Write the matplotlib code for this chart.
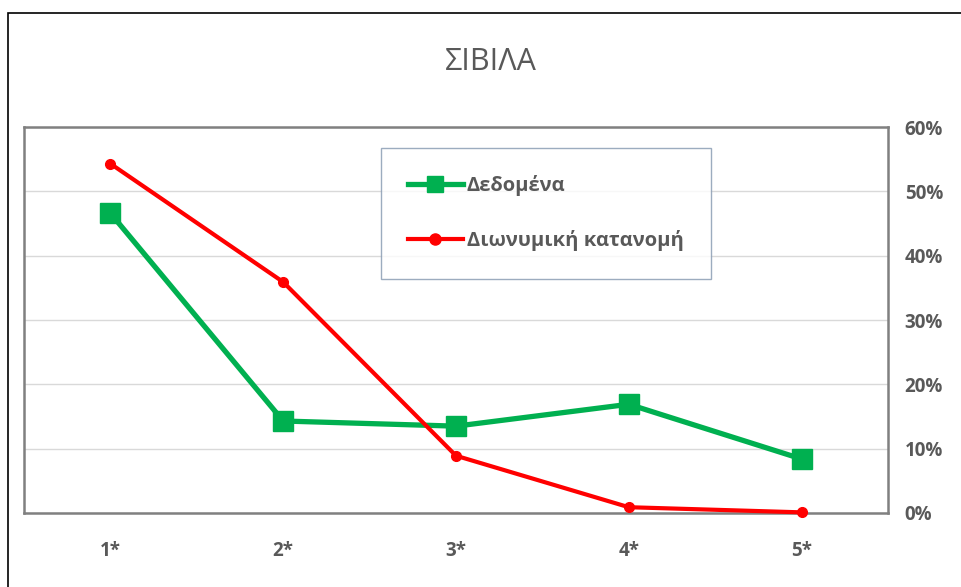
import matplotlib

matplotlib.use("Agg")
import matplotlib.pyplot as plt
from matplotlib.patches import Rectangle
from matplotlib.ticker import FuncFormatter

categories = ["1*", "2*", "3*", "4*", "5*"]
data_vals = [0.466, 0.143, 0.135, 0.169, 0.084]
binom_vals = [0.543, 0.359, 0.089, 0.009, 0.001]

GRAY = "#595959"
plt.rcParams["font.family"] = ["Open Sans", "DejaVu Sans"]

fig = plt.figure(figsize=(9.62, 5.87), dpi=100)
W, H = 962, 587

# outer chart frame (left/top edges visible)
fig.patches.append(Rectangle((8 / W, -0.01), 1.0, 1 - 13 / H + 0.01, transform=fig.transFigure,
                             fill=False, edgecolor="black", linewidth=1.2))

ax = fig.add_axes([24 / W, (H - 513) / H, 864 / W, 386 / H])
x = range(len(categories))
ax.plot(x, data_vals, color="#00B050", linewidth=3.8, marker="s", markersize=14,
        label="Δεδομένα", zorder=3)
ax.plot(x, binom_vals, color="#FF0000", linewidth=3.0, marker="o", markersize=7,
        label="Διωνυμική κατανομή", zorder=4, clip_on=False)

ax.set_xlim(-0.5, 4.5)
ax.set_ylim(0, 0.6)
ax.set_yticks([0, 0.1, 0.2, 0.3, 0.4, 0.5, 0.6])
ax.yaxis.set_major_formatter(FuncFormatter(lambda v, _: f"{v * 100:.0f}%"))
ax.yaxis.tick_right()
ax.set_xticks(list(x), categories)
ax.tick_params(length=0, colors=GRAY, labelsize=13.5)
ax.tick_params(axis="x", pad=20)
ax.tick_params(axis="y", pad=12)
for lbl in ax.get_xticklabels() + ax.get_yticklabels():
    lbl.set_fontweight("bold")
ax.grid(axis="y", color="#D9D9D9", linewidth=1)
ax.set_axisbelow(True)
for sp in ax.spines.values():
    sp.set_color("#808080")
    sp.set_linewidth(1.8)

fig.text(491 / W, 1 - 62 / H, "ΣΙΒΙΛΑ", ha="center", va="center", fontsize=22, color=GRAY)

leg = ax.legend(loc="upper left", bbox_to_anchor=((381 - 24) / 864, (513 - 148) / 386),
                frameon=True, fancybox=False, fontsize=14.5, labelspacing=1.7,
                borderpad=1.35, borderaxespad=0, handlelength=2.7, handletextpad=0.2)
leg.get_frame().set_edgecolor("#8497B0")
leg.get_frame().set_linewidth(1.0)
leg.legend_handles[0].set_markersize(11)
leg.legend_handles[1].set_markersize(8)
for t in leg.get_texts():
    t.set_color(GRAY)
    t.set_fontweight("bold")

fig.savefig("out.png", dpi=100)
